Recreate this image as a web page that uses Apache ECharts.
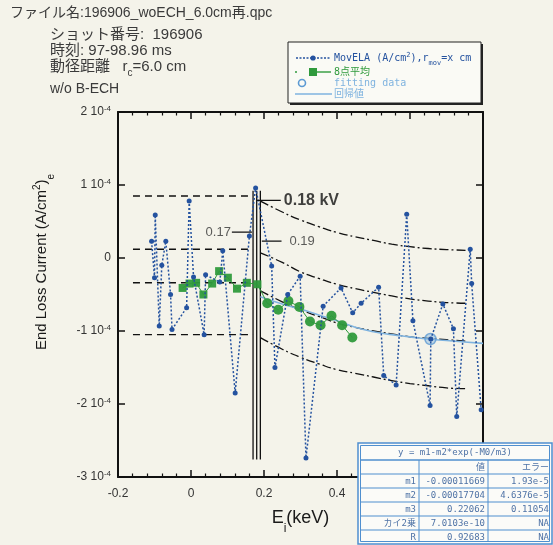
<!DOCTYPE html>
<html>
<head>
<meta charset="utf-8">
<script src="https://cdn.jsdelivr.net/npm/echarts/dist/echarts.min.js"></script>
<style>
  html, body { margin: 0; padding: 0; background: #f4f3ea; }
  #chart { width: 553px; height: 545px; }
</style>
</head>
<body>
<div id="chart"></div>
<script>
// ---- data (current in units of 1e-4 A/cm^2, energy in keV) ----
const movX = [-0.108, -0.100, -0.098, -0.087, -0.080, -0.069, -0.056, -0.052, -0.012, -0.005,
              0.007, 0.036, 0.040, 0.079, 0.087, 0.121, 0.160, 0.177, 0.221, 0.230,
              0.265, 0.299, 0.315, 0.362, 0.411, 0.443, 0.466, 0.514, 0.528, 0.562,
              0.591, 0.608, 0.655, 0.657, 0.690, 0.719, 0.728, 0.765, 0.769, 0.795];
const movY = [0.23, -0.27, 0.59, -0.93, -0.10, 0.23, -0.50, -0.98, -0.68, 0.78,
              -0.26, -1.05, -0.23, -0.33, 0.10, -1.85, 0.30, 0.96, -0.11, -1.50,
              -0.50, -0.25, -2.74, -0.66, -0.41, -0.75, -0.62, -0.40, -1.61, -1.74,
              0.60, -0.86, -2.02, -1.11, -0.63, -0.97, -2.17, 0.12, -0.35, -2.08];

// 8-point average below the cut (squares) and above it (circles)
const avgX = [-0.023, -0.004, 0.014, 0.034, 0.058, 0.077, 0.101, 0.126, 0.153, 0.182];
const avgY = [-0.41, -0.35, -0.34, -0.50, -0.35, -0.18, -0.27, -0.42, -0.34, -0.36];
const avgFitX = [0.209, 0.239, 0.267, 0.297, 0.326, 0.355, 0.385, 0.414, 0.442];
const avgFitY = [-0.62, -0.71, -0.59, -0.67, -0.87, -0.92, -0.79, -0.92, -1.09];

const fitPointX = [0.656];
const fitPointY = [-1.11];

// regression curve
const regX = [0.19, 0.25, 0.30, 0.35, 0.40, 0.45, 0.50, 0.55, 0.60, 0.65, 0.70, 0.75, 0.80];
const regY = [-0.53, -0.63, -0.70, -0.78, -0.86, -0.95, -1.01, -1.05, -1.08, -1.11, -1.13, -1.15, -1.17];

// envelope curves to the right of the cut
const envX = [0.19, 0.25, 0.30, 0.35, 0.40, 0.45, 0.50, 0.55, 0.60, 0.65, 0.70, 0.755];
const envA = [0.78, 0.63, 0.52, 0.43, 0.35, 0.29, 0.24, 0.19, 0.155, 0.13, 0.115, 0.105];
const envB = [0.07, -0.06, -0.19, -0.28, -0.36, -0.42, -0.47, -0.52, -0.56, -0.59, -0.61, -0.62];
const envC = [-0.45, -0.60, -0.71, -0.80, -0.89, -0.95, -1.00, -1.04, -1.08, -1.10, -1.12, -1.14];
const envD = [-1.09, -1.25, -1.36, -1.45, -1.53, -1.58, -1.63, -1.68, -1.72, -1.75, -1.78, -1.79];

// horizontal reference levels to the left of the cut
const levelY = [0.85, 0.12, -0.34, -1.05];
const levelX = [-0.159, 0.17];

// vertical cut lines
const cutX = [0.17, 0.18, 0.19];
const cutY = [-2.76, 0.92];

// axes
const xMin = -0.2, xMax = 0.8, xStep = 0.2;
const yMin = -3, yMax = 2, yStep = 1;
const yExponent = '-4';

// fit results table
const fitFormula = 'y = m1-m2*exp(-M0/m3)';
const tableHead = ['', '値', 'エラー'];
const tableNames = ['m1', 'm2', 'm3', 'カイ2乗', 'R'];
const tableValues = ['-0.00011669', '-0.00017704', '0.22062', '7.0103e-10', '0.92683'];
const tableErrors = ['1.93e-5', '4.6376e-5', '0.11054', 'NA', 'NA'];

// header text
const headerLines = ['ショット番号:  196906', '時刻: 97-98.96 ms'];
const fileName = 'ファイル名:196906_woECH_6.0cm再.qpc';

// ---- drawing ----
const FONT = '"Liberation Sans", Arial, "Noto Sans CJK JP", sans-serif';
const MONO = '"DejaVu Sans Mono", "Liberation Mono", "Noto Sans CJK JP", monospace';
const BLUE = '#24529f';
const GREEN = '#2f9a3c';
const LIGHT = '#7fb3df';

const pairs = (xs, ys) => xs.map((x, i) => [x, ys[i]]);

const chart = echarts.init(document.getElementById('chart'), null, { renderer: 'canvas' });

const series = [];

// vertical cut lines
cutX.forEach(x => series.push({
  type: 'line', data: [[x, cutY[0]], [x, cutY[1]]], symbol: 'none', silent: true,
  lineStyle: { color: '#111', width: 1.3 }, z: 2
}));

// left reference levels
levelY.forEach(y => series.push({
  type: 'line', data: [[levelX[0], y], [levelX[1], y]], symbol: 'none', silent: true,
  lineStyle: { color: '#111', width: 1.4, type: [7, 5] }, z: 2
}));

// envelope curves
[envA, envB, envC, envD].forEach(ys => series.push({
  type: 'line', data: pairs(envX, ys), symbol: 'none', smooth: true, silent: true,
  lineStyle: { color: '#111', width: 1.3, type: [9, 3, 2, 3] }, z: 2
}));

// regression curve
series.push({
  name: '回帰値', type: 'line', data: pairs(regX, regY), symbol: 'none', smooth: true,
  lineStyle: { color: LIGHT, width: 1.6 }, z: 3
});

// 8-point average
const avgData = pairs(avgX, avgY).map(p => ({ value: p, symbol: 'rect', symbolSize: 8 }))
  .concat(pairs(avgFitX, avgFitY).map(p => ({ value: p, symbol: 'circle', symbolSize: 10 })));
series.push({
  name: '8点平均', type: 'line', data: avgData,
  lineStyle: { color: GREEN, width: 1 }, itemStyle: { color: GREEN, opacity: 0.95 }, z: 4
});

// fitting data marker
series.push({
  name: 'fitting data', type: 'scatter', data: pairs(fitPointX, fitPointY),
  symbol: 'circle', symbolSize: 11,
  itemStyle: { color: 'rgba(127,179,223,0.55)', borderColor: '#5c9ad3', borderWidth: 1.5 }, z: 5
});

// MovELA
series.push({
  name: 'MovELA', type: 'line', data: pairs(movX, movY),
  symbol: 'circle', symbolSize: 5,
  lineStyle: { color: BLUE, width: 1.5, type: [2, 2] },
  itemStyle: { color: BLUE }, z: 6
});

// annotation leaders and labels
const annots = [
  { from: [0.181, 0.79], to: [0.246, 0.79], text: '0.18 kV', pos: 'right', dist: 3, size: 16, bold: true },
  { from: [0.167, 0.355], to: [0.112, 0.355], text: '0.17', pos: 'left', dist: 1, size: 13, bold: false },
  { from: [0.194, 0.232], to: [0.248, 0.232], text: '0.19', pos: 'right', dist: 8, size: 13, bold: false }
];
annots.forEach(a => {
  series.push({
    type: 'line', data: [a.from, a.to], symbol: 'none', silent: true,
    lineStyle: { color: '#111', width: 1.3 }, z: 7
  });
  series.push({
    type: 'scatter', data: [a.to], symbolSize: 0, silent: true, z: 7,
    label: {
      show: true, position: a.pos, distance: a.dist, formatter: a.text,
      fontFamily: FONT, fontSize: a.size, fontWeight: a.bold ? 'bold' : 'normal',
      color: a.bold ? '#111' : '#333'
    }
  });
});

const yLabel = v => v === 0 ? '{n|0}' : '{n|' + v + ' 10}{s|' + yExponent + '}';

const axisLineStyle = { color: '#111', width: 2 };

const option = {
  backgroundColor: '#f4f3ea',
  animation: false,
  grid: { left: 118, right: 70, top: 112, bottom: 68, containLabel: false },
  xAxis: [
    {
      type: 'value', min: xMin, max: xMax, interval: xStep, position: 'bottom',
      axisLine: { onZero: false, lineStyle: axisLineStyle },
      axisTick: { inside: true, length: 7, lineStyle: { color: '#111', width: 1.5 } },
      minorTick: { show: true, splitNumber: 5, length: 3.5, lineStyle: { color: '#111', width: 1.2 } },
      splitLine: { show: false },
      axisLabel: {
        margin: 11, fontFamily: FONT, fontSize: 12, color: '#333',
        formatter: v => (Math.abs(v) < 1e-9 ? '0' : String(Math.round(v * 10) / 10))
      },
      name: '{a|E}{b|i}{a|(keV)}', nameLocation: 'middle', nameGap: 30,
      nameTextStyle: {
        rich: {
          a: { fontFamily: FONT, fontSize: 18, color: '#1a1a1a', lineHeight: 22 },
          b: { fontFamily: FONT, fontSize: 12, color: '#1a1a1a', lineHeight: 22, verticalAlign: 'bottom', padding: [0, 0, -6, 0] }
        }
      }
    },
    {
      type: 'value', min: xMin, max: xMax, interval: xStep, position: 'top',
      axisLine: { onZero: false, lineStyle: axisLineStyle },
      axisTick: { inside: true, length: 7, lineStyle: { color: '#111', width: 1.5 } },
      minorTick: { show: true, splitNumber: 5, length: 3.5, lineStyle: { color: '#111', width: 1.2 } },
      splitLine: { show: false }, axisLabel: { show: false }
    }
  ],
  yAxis: [
    {
      type: 'value', min: yMin, max: yMax, interval: yStep, position: 'left',
      axisLine: { onZero: false, lineStyle: axisLineStyle },
      axisTick: { inside: true, length: 7, lineStyle: { color: '#111', width: 1.5 } },
      splitLine: { show: false },
      axisLabel: {
        margin: 7, formatter: yLabel,
        rich: {
          n: { fontFamily: FONT, fontSize: 12, color: '#333', lineHeight: 14 },
          s: { fontFamily: FONT, fontSize: 8, color: '#333', lineHeight: 8, verticalAlign: 'top', padding: [0, 0, 7, 0] }
        }
      }
    },
    {
      type: 'value', min: yMin, max: yMax, interval: yStep, position: 'right',
      axisLine: { onZero: false, lineStyle: axisLineStyle },
      axisTick: { inside: true, length: 7, lineStyle: { color: '#111', width: 1.5 } },
      splitLine: { show: false }, axisLabel: { show: false }
    }
  ],
  series: series,
  graphic: []
};

const g = option.graphic;

// file header
g.push({ type: 'text', left: 10, top: 6, z: 50,
  style: { text: fileName, font: '14px ' + FONT, fill: '#3a3a3a' } });
headerLines.forEach((t, i) => g.push({ type: 'text', left: 50, top: 27 + i * 16, z: 50,
  style: { text: t, font: '15px ' + FONT, fill: '#3a3a3a' } }));
g.push({ type: 'text', left: 50, top: 59, z: 50,
  style: {
    text: '{a|動径距離   r}{s|c}{a|=6.0 cm}',
    rich: {
      a: { fontFamily: FONT, fontSize: 15, fill: '#3a3a3a', lineHeight: 17 },
      s: { fontFamily: FONT, fontSize: 10, fill: '#3a3a3a', lineHeight: 17, verticalAlign: 'bottom', padding: [0, 0, -3, 0] }
    }
  } });
g.push({ type: 'text', left: 50, top: 82, z: 50,
  style: { text: 'w/o B-ECH', font: '14px ' + FONT, fill: '#3a3a3a' } });

// y axis title
g.push({ type: 'text', x: 42, y: 262, rotation: Math.PI / 2, z: 50,
  style: {
    text: '{a|End Loss Current (A/cm}{p|2}{a|)}{b|e}',
    align: 'center', verticalAlign: 'middle', textAlign: 'center', textVerticalAlign: 'middle',
    rich: {
      a: { fontFamily: FONT, fontSize: 15, fill: '#1a1a1a', lineHeight: 20 },
      p: { fontFamily: FONT, fontSize: 10, fill: '#1a1a1a', lineHeight: 20, verticalAlign: 'top', padding: [0, 0, 8, 0] },
      b: { fontFamily: FONT, fontSize: 10, fill: '#1a1a1a', lineHeight: 20, verticalAlign: 'bottom', padding: [0, 0, -4, 0] }
    }
  } });

// legend box
const LX = 288, LY = 42, LW = 193, LH = 61;
g.push({ type: 'rect', shape: { x: LX + 2, y: LY + 2, width: LW, height: LH }, z: 60,
  style: { fill: '#222' } });
g.push({ type: 'rect', shape: { x: LX, y: LY, width: LW, height: LH }, z: 61,
  style: { fill: '#fafaf5', stroke: '#222', lineWidth: 1 } });
const legText = (y, text, color, rich) => g.push({ type: 'text', x: 334, y: y, z: 62,
  style: Object.assign({ text: text, fill: color, font: '10px ' + MONO, verticalAlign: 'middle', textVerticalAlign: 'middle' },
    rich ? { rich: rich } : {}) });
// MovELA entry
g.push({ type: 'line', shape: { x1: 296, y1: 58, x2: 330, y2: 58 }, z: 62,
  style: { stroke: BLUE, lineWidth: 1.4, lineDash: [2, 1.5] } });
g.push({ type: 'circle', shape: { cx: 313, cy: 58, r: 2.6 }, z: 63, style: { fill: BLUE } });
legText(58, '{t|MovELA (A/cm}{p|2}{t|),r}{s|mov}{t|=x cm}', BLUE, {
  t: { fontFamily: MONO, fontSize: 10, fill: BLUE, lineHeight: 12 },
  p: { fontFamily: MONO, fontSize: 7, fill: BLUE, lineHeight: 12, verticalAlign: 'top', padding: [0, 0, 4, 0] },
  s: { fontFamily: MONO, fontSize: 7, fill: BLUE, lineHeight: 12, verticalAlign: 'bottom', padding: [0, 0, -3, 0] }
});
// 8-point average entry
g.push({ type: 'circle', shape: { cx: 296, cy: 72, r: 1 }, z: 62, style: { fill: GREEN } });
g.push({ type: 'line', shape: { x1: 312, y1: 72, x2: 331, y2: 72 }, z: 62, style: { stroke: GREEN, lineWidth: 1.4 } });
g.push({ type: 'rect', shape: { x: 309, y: 68, width: 8, height: 8 }, z: 63, style: { fill: GREEN } });
legText(72, '8点平均', GREEN);
// fitting data entry
g.push({ type: 'circle', shape: { cx: 302, cy: 83, r: 3.5 }, z: 62,
  style: { fill: 'none', stroke: '#5c9ad3', lineWidth: 1.6 } });
legText(83, 'fitting data', LIGHT);
// regression entry
g.push({ type: 'line', shape: { x1: 295, y1: 94, x2: 332, y2: 94 }, z: 62, style: { stroke: LIGHT, lineWidth: 1.4 } });
legText(94, '回帰値', LIGHT);

// fit results table
const TX = 358, TY = 443, TW = 194, TITLE_H = 17, ROW_H = 14;
const colX = [358, 419, 488, 552];
const nRows = tableNames.length + 1;
const TH = TITLE_H + ROW_H * nRows;
const TBLUE = '#4f8fcf';
const TTEXT = '#4f73a6';
g.push({ type: 'rect', shape: { x: TX, y: TY, width: TW, height: TH }, z: 80,
  style: { fill: '#fbfbf8', stroke: TBLUE, lineWidth: 1.5 } });
g.push({ type: 'rect', shape: { x: TX + 2.5, y: TY + 2.5, width: TW - 5, height: TH - 5 }, z: 81,
  style: { fill: 'none', stroke: TBLUE, lineWidth: 1 } });
for (let r = 0; r < nRows; r++) {
  const y = TY + TITLE_H + r * ROW_H;
  g.push({ type: 'line', shape: { x1: TX + 2.5, y1: y, x2: TX + TW - 2.5, y2: y }, z: 82,
    style: { stroke: TBLUE, lineWidth: r === 0 ? 1.6 : 1 } });
}
[colX[1], colX[2]].forEach(x => g.push({ type: 'line',
  shape: { x1: x, y1: TY + TITLE_H, x2: x, y2: TY + TH - 2.5 }, z: 82, style: { stroke: TBLUE, lineWidth: 1 } }));
const cell = (x, y, text, align) => g.push({ type: 'text', x: x, y: y, z: 83,
  style: { text: text, font: '9px ' + MONO, fill: TTEXT, align: align, textAlign: align,
    verticalAlign: 'middle', textVerticalAlign: 'middle' } });
cell((TX + TX + TW) / 2, TY + TITLE_H / 2 + 1, fitFormula, 'center');
const rowsText = [tableHead].concat(tableNames.map((n, i) => [n, tableValues[i], tableErrors[i]]));
rowsText.forEach((row, r) => {
  const y = TY + TITLE_H + r * ROW_H + ROW_H / 2 + 0.5;
  row.forEach((t, c) => { if (t) cell(colX[c + 1] - 3, y, t, 'right'); });
});

chart.setOption(option);
</script>
</body>
</html>
